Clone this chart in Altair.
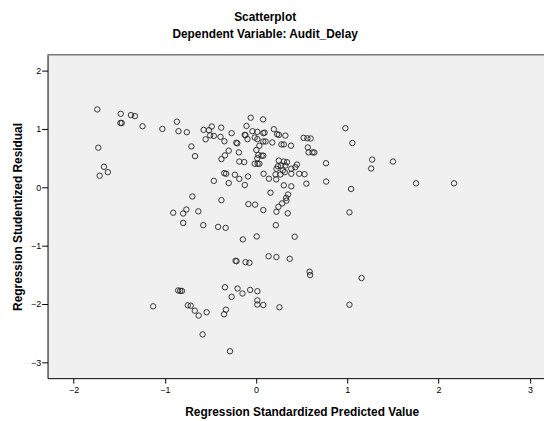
import altair as alt
import pandas as pd

# Regression standardized predicted value (x) and studentized residual (y)
pred = [
    -1.740, -1.483, -1.371, -1.328, -1.486, -1.472, -1.244, -1.027, -0.868, -0.850,
    -0.759, -1.729, -1.667, -1.624, -1.714, -0.709, -0.669, -0.698, -0.908, -0.799,
    -0.764, -0.633, -0.799, -0.854, -0.832, -0.813, -1.128, -0.748, -0.716, -0.672,
    -0.629, -0.542, -0.586, -0.575, -0.517, -0.485, -0.553, -0.503, -0.463, -0.390,
    -0.382, -0.347, -0.268, -0.380, -0.341, -0.300, -0.463, -0.300, -0.349, -0.328,
    -0.232, -0.184, -0.124, -0.089, -0.217, -0.206, -0.189, -0.184, -0.130, -0.105,
    -0.059, -0.116, -0.094, -0.380, -0.579, -0.416, -0.333, -0.145, -0.225, -0.214,
    -0.116, -0.073, -0.341, -0.203, -0.268, -0.149, -0.065, -0.330, -0.351, -0.286,
    -0.084, -0.040, 0.014, 0.079, 0.093, -0.015, 0.014, 0.079, 0.003, 0.036,
    0.025, 0.061, 0.014, -0.015, 0.017, 0.036, 0.076, 0.082, -0.011, 0.079,
    0.007, 0.014, 0.014, 0.014, 0.079, 0.137, 0.195, 0.231, 0.321, 0.104,
    0.177, 0.278, 0.304, 0.383, 0.079, 0.249, 0.304, 0.339, 0.239, 0.274,
    0.321, 0.223, 0.293, 0.386, 0.448, 0.429, 0.213, 0.267, 0.315, 0.386,
    0.141, 0.220, 0.304, 0.386, 0.158, 0.350, 0.329, 0.223, 0.245, 0.285,
    0.332, 0.347, 0.217, 0.223, 0.256, 0.369, 0.423, 0.521, 0.562, 0.598,
    0.567, 0.575, 0.619, 0.638, 0.473, 0.531, 0.551, 0.766, 0.768, 0.979,
    1.055, 1.272, 1.261, 1.500, 1.041, 1.753, 2.169, 1.023, 0.586, 0.592,
    1.156, 1.023, -0.124, 0.250,
]
resid = [
    1.334, 1.259, 1.237, 1.220, 1.102, 1.102, 1.046, 1.000, 1.124, 0.961,
    0.944, 0.678, 0.351, 0.259, 0.198, 0.700, 0.534, -0.158, -0.436, -0.449,
    -0.381, -0.412, -0.610, -1.767, -1.775, -1.775, -2.039, -2.022, -2.029, -2.114,
    -2.198, -2.141, -2.520, 0.983, 0.978, 1.042, 0.822, 0.890, 0.881, 0.864,
    1.022, 0.788, 0.927, 0.483, 0.547, 0.627, 0.110, 0.073, 0.242, 0.232,
    0.215, 0.144, 0.039, 0.186, 0.763, 0.754, 0.598, 0.441, 0.432, 1.051,
    1.192, 0.893, 0.825, -0.220, -0.649, -0.678, -0.695, -0.893, -1.259, -1.266,
    -1.283, -1.293, -1.712, -1.734, -1.876, -1.819, -1.758, -2.097, -2.175, -2.808,
    -0.288, 0.961, 0.949, 0.927, 0.937, 0.853, 0.825, 0.785, 0.639, 0.712,
    0.554, 0.542, 0.497, 0.402, 0.402, 0.402, 1.164, 0.232, -0.297, -0.390,
    -0.842, -1.780, -1.937, -2.008, -2.017, -1.181, 0.995, 0.910, 0.886, 0.785,
    0.768, 0.734, 0.734, 0.712, 0.542, 0.458, 0.441, 0.429, 0.361, 0.373,
    0.373, 0.317, 0.288, 0.317, 0.390, 0.344, 0.220, 0.220, 0.259, 0.232,
    0.147, 0.136, 0.034, 0.017, -0.093, -0.124, -0.181, -0.419, -0.334, -0.276,
    -0.229, -0.446, -0.649, -1.195, -2.056, -1.225, -0.847, 0.847, 0.839, 0.836,
    0.683, 0.598, 0.598, 0.597, 0.232, 0.224, 0.063, 0.412, 0.098, 1.012,
    0.758, 0.475, 0.322, 0.441, -0.029, 0.068, 0.068, -0.429, -1.446, -1.503,
    -1.554, -2.012, 0.898, 0.898,
]

x_ticks = [-2, -1, 0, 1, 2, 3]
y_ticks = [-3, -2, -1, 0, 1, 2]

df = pd.DataFrame({"pred": pred, "resid": resid})

FONT = "Liberation Sans"

points = alt.Chart(df).mark_point(
    shape="circle", filled=False, size=30, strokeWidth=1, color="#222222", opacity=0.9
).encode(
    x=alt.X(
        "pred:Q",
        scale=alt.Scale(domain=[-2.285, 3.155], nice=False, zero=False),
        axis=alt.Axis(
            values=x_ticks, title="Regression Standardized Predicted Value",
            tickSize=5, labelPadding=3, titlePadding=12, grid=False,
            titleX=257,
        ),
    ),
    y=alt.Y(
        "resid:Q",
        scale=alt.Scale(domain=[-3.27, 2.27], nice=False, zero=False),
        axis=alt.Axis(
            values=y_ticks, title="Regression Studentized Residual",
            tickSize=6, labelPadding=1, titlePadding=6, grid=False,
        ),
    ),
)

top_border = alt.Chart(pd.DataFrame({"a": [0]})).mark_rule(
    color="#777777", strokeWidth=1.5
).encode(y=alt.value(0), x=alt.value(0), x2=alt.value(502))

chart = alt.layer(points, top_border).properties(
    width=502,
    height=327,
    title=alt.TitleParams(
        text="Scatterplot",
        subtitle="Dependent Variable: Audit_Delay",
        font=FONT, fontSize=12, fontWeight="bold", color="#000000",
        subtitleFont=FONT, subtitleFontSize=12, subtitleFontWeight="bold",
        subtitleColor="#000000", subtitlePadding=5,
        anchor="middle", dx=-31, offset=13,
    ),
    autosize=alt.AutoSizeParams(type="none"),
    padding={"left": 40, "top": 45, "right": 0, "bottom": 41},
    background="white",
).configure_view(
    fill="#F0F0F0", stroke=None
).configure_axis(
    labelFont=FONT, labelFontSize=9, labelColor="#000000",
    titleFont=FONT, titleFontSize=12, titleFontWeight="bold", titleColor="#000000",
    domainColor="#000000", domainWidth=1, tickColor="#000000", tickWidth=1,
)

chart.save("out.html", embed_options={"renderer": "svg", "actions": False})
